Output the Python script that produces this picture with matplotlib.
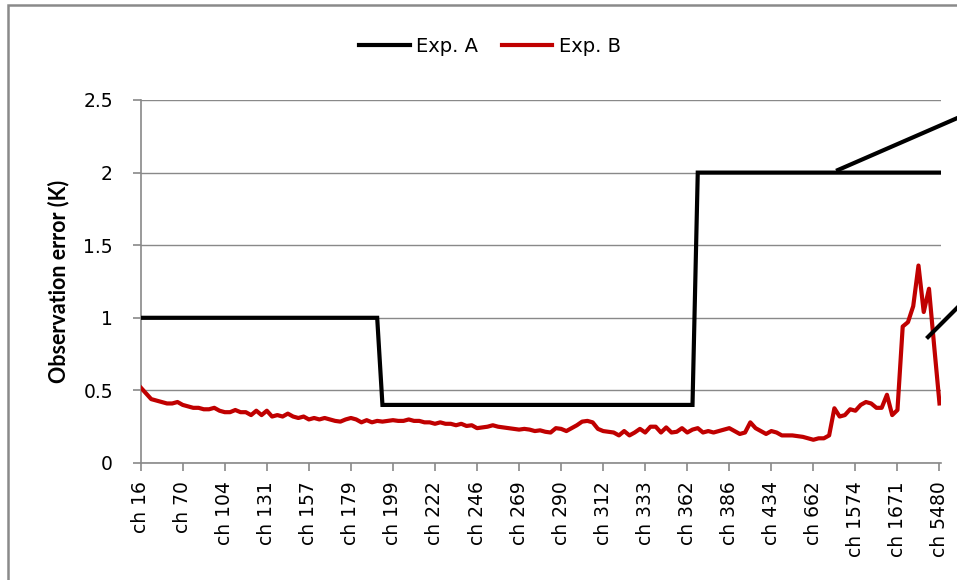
import matplotlib
matplotlib.use("Agg")
import matplotlib.pyplot as plt
from matplotlib.lines import Line2D
from matplotlib.patches import Rectangle
from matplotlib import font_manager

# x-axis labels (one label every 8 channels)
tick_labels = ["ch 16", "ch 70", "ch 104", "ch 131", "ch 157", "ch 179", "ch 199",
               "ch 222", "ch 246", "ch 269", "ch 290", "ch 312", "ch 333", "ch 362",
               "ch 386", "ch 434", "ch 662", "ch 1574", "ch 1671", "ch 5480"]
label_step = 8

# Exp. A: constant error per channel block
exp_a = [1.0] * 46 + [0.4] * 60 + [2.0] * 47

# Exp. B: per-channel error
exp_b = [
    0.52, 0.48, 0.44, 0.43, 0.42, 0.41, 0.41, 0.42, 0.40, 0.39,
    0.38, 0.38, 0.37, 0.37, 0.38, 0.36, 0.35, 0.35, 0.365, 0.35,
    0.35, 0.33, 0.36, 0.33, 0.36, 0.32, 0.33, 0.32, 0.34, 0.32,
    0.31, 0.32, 0.30, 0.31, 0.30, 0.31, 0.30, 0.29, 0.285, 0.30,
    0.31, 0.30, 0.28, 0.295, 0.28, 0.29, 0.285, 0.29, 0.295, 0.29,
    0.29, 0.30, 0.29, 0.29, 0.28, 0.28, 0.27, 0.28, 0.27, 0.27,
    0.26, 0.27, 0.255, 0.26, 0.24, 0.245, 0.25, 0.26, 0.25, 0.245,
    0.24, 0.235, 0.23, 0.235, 0.23, 0.22, 0.225, 0.215, 0.21, 0.24,
    0.235, 0.22, 0.24, 0.26, 0.285, 0.29, 0.28, 0.235, 0.22, 0.215,
    0.21, 0.19, 0.22, 0.19, 0.21, 0.235, 0.21, 0.25, 0.25, 0.21,
    0.245, 0.21, 0.215, 0.24, 0.21, 0.23, 0.24, 0.21, 0.22, 0.21,
    0.22, 0.23, 0.24, 0.22, 0.20, 0.21, 0.28, 0.24, 0.22, 0.20,
    0.22, 0.21, 0.19, 0.19, 0.19, 0.185, 0.18, 0.17, 0.16, 0.17,
    0.17, 0.19, 0.377, 0.32, 0.33, 0.37, 0.36, 0.40, 0.42, 0.41,
    0.38, 0.38, 0.47, 0.33, 0.365, 0.94, 0.97, 1.08, 1.36, 1.04,
    1.20, 0.80, 0.41,
]

grid_c = "#898989"
installed = {f.name for f in font_manager.fontManager.ttflist}
label_font = "Lato" if "Lato" in installed else "DejaVu Sans"
plt.rcParams["font.family"] = ["DejaVu Sans"]

W, H = 957, 580
fig = plt.figure(figsize=(W / 100, H / 100), dpi=100)
ax = fig.add_axes([140.7 / W, 1 - 463 / H, (941 - 140.7) / W, (463 - 100) / H])

x = list(range(len(exp_b)))
ax.plot(x, exp_a, color="black", lw=3.0, label="Exp. A", solid_joinstyle="miter", zorder=3)
ax.plot(x, exp_b, color="#c00000", lw=3.0, label="Exp. B", solid_joinstyle="round", zorder=3)

ax.set_xlim(0, 152 + (941 - 939.5) / 5.241)
ax.set_ylim(0, 2.5)
ax.set_yticks([0, 0.5, 1, 1.5, 2, 2.5])
ax.set_yticklabels(["0", "0.5", "1", "1.5", "2", "2.5"])
ax.set_xticks(range(0, len(exp_b), label_step))
ax.set_xticklabels(tick_labels, rotation=90, va="top", ha="center")
ax.grid(axis="y", color=grid_c, lw=1.0)
ax.set_axisbelow(True)
for s in ["top", "right"]:
    ax.spines[s].set_visible(False)
for s in ["left", "bottom"]:
    ax.spines[s].set_color(grid_c)
    ax.spines[s].set_linewidth(1.2)
ax.tick_params(axis="y", length=6, width=1.2, color=grid_c, pad=14, labelsize=13.5)
ax.tick_params(axis="x", length=6, width=1.2, color=grid_c, pad=7, labelsize=13.5)
ax.set_ylabel("Observation error (K)", fontfamily=label_font, fontweight="bold", fontsize=15.5, labelpad=10)

leg = fig.legend(loc="center", bbox_to_anchor=(490 / W, 1 - 46 / H), ncol=2, frameon=False,
                 fontsize=14, handlelength=2.6, handletextpad=0.35, columnspacing=1.2)

# callout leader lines running off the right edge
fig.add_artist(Line2D([838 / W, 962 / W], [1 - 170 / H, 1 - 116 / H], color="black", lw=3.0))
fig.add_artist(Line2D([928 / W, 962 / W], [1 - 337 / H, 1 - 303 / H], color="black", lw=3.0))

# chart area border
fig.add_artist(Rectangle((8 / W, -0.05), 1.1, 1 - 5 / H + 0.05, transform=fig.transFigure,
                         fill=False, edgecolor="#8a8a8a", lw=1.8))

fig.savefig("out.png", dpi=100)
